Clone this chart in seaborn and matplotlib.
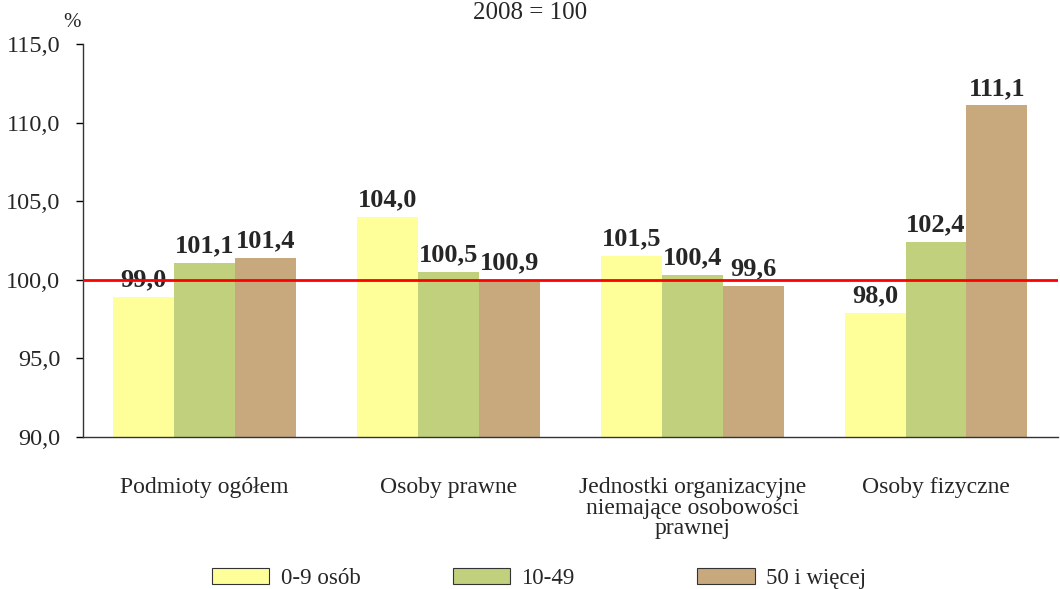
import matplotlib
matplotlib.use("Agg")
import matplotlib.pyplot as plt
from matplotlib.patches import Patch
import seaborn as sns
import pandas as pd

# categories and series (2008 = 100)
categories = ["Podmioty ogółem", "Osoby prawne",
              "Jednostki organizacyjne\nniemające osobowości\nprawnej",
              "Osoby fizyczne"]
groups = ["0-9 osób", "10-49", "50 i więcej"]
small = [98.9, 104.0, 101.5, 97.9]
medium = [101.1, 100.5, 100.3, 102.4]
large = [101.4, 100.0, 99.6, 111.1]
# value labels as printed on the chart
small_lbl = ["99,0", "104,0", "101,5", "98,0"]
medium_lbl = ["101,1", "100,5", "100,4", "102,4"]
large_lbl = ["101,4", "100,9", "99,6", "111,1"]
yticks = [90, 95, 100, 105, 110, 115]

colors = ["#FFFF99", "#C0D07C", "#C8A97E"]

df = pd.DataFrame({
    "kat": categories * 3,
    "grupa": [g for g in groups for _ in categories],
    "wart": small + medium + large,
})

sns.set_style("white")
plt.rcParams["font.family"] = ["Liberation Serif", "DejaVu Serif"]

fig = plt.figure(figsize=(10.6, 5.89), dpi=100)
ax = fig.add_axes([0.078, 0.258, 0.92, 0.667])

sns.barplot(data=df, x="kat", y="wart", hue="grupa", order=categories,
            hue_order=groups, palette=colors, width=0.75, saturation=1,
            linewidth=0, ax=ax, legend=False)

for cont, lbls in zip(ax.containers, [small_lbl, medium_lbl, large_lbl]):
    ax.bar_label(cont, labels=lbls, padding=4, fontsize=19, fontweight="bold")

ax.axhline(100, color="#FF0000", lw=2, zorder=5)

ax.set_ylim(90, 115)
ax.set_xlim(-0.5, len(categories) - 0.5)
ax.set_yticks(yticks)
ax.set_yticklabels([f"{v:.1f}".replace(".", ",") for v in yticks], fontsize=17.5)
ax.set_xticks(range(len(categories)))
ax.set_xticklabels(categories, fontsize=17, linespacing=0.95)
ax.set_xticks([i - 0.5 for i in range(len(categories) + 1)], minor=True)
ax.tick_params(axis="x", which="major", length=0, pad=29)
ax.tick_params(axis="x", which="minor", length=5, width=1, direction="out", color="black")
ax.tick_params(axis="y", length=5, width=1, direction="out", color="black", pad=11, left=True)
ax.set_xlabel("")
ax.set_ylabel("")

for s in ["top", "right"]:
    ax.spines[s].set_visible(False)
for s in ["left", "bottom"]:
    ax.spines[s].set_color("#333333")
    ax.spines[s].set_linewidth(1)

fig.text(0.5, 0.978, "2008 = 100", ha="center", va="center", fontsize=18)
fig.text(0.068, 0.962, "%", ha="center", va="center", fontsize=15)

# legend: one entry per slot, evenly spaced like the original
slots = [0.2, 0.427, 0.658]
for c, g, x in zip(colors, groups, slots):
    h = Patch(facecolor=c, edgecolor="#333333", lw=0.8)
    fig.legend([h], [g], loc="center left", bbox_to_anchor=(x, 0.018),
               frameon=False, fontsize=16.5, handlelength=2.5,
               handleheight=0.75, handletextpad=0.5, borderpad=0,
               borderaxespad=0)

fig.savefig("out.png", dpi=100)
